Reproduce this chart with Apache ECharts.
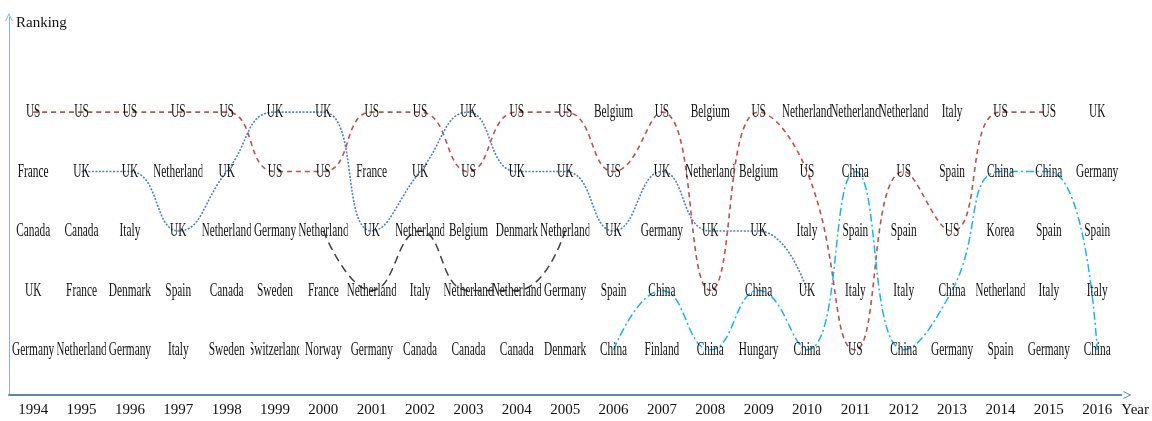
<!DOCTYPE html>
<html><head><meta charset="utf-8">
<script src="https://cdn.jsdelivr.net/npm/echarts@6/dist/echarts.min.js"></script>
<style>html,body{margin:0;padding:0;background:#fff}#c{width:1152px;height:421px}</style>
</head><body><div id="c"></div>
<script>
const years = ['1994','1995','1996','1997','1998','1999','2000','2001','2002','2003','2004','2005','2006','2007','2008','2009','2010','2011','2012','2013','2014','2015','2016'];
const rank1 = ['US','US','US','US','US','UK','UK','US','US','UK','US','US','Belgium','US','Belgium','US','Netherland','Netherland','Netherland','Italy','US','US','UK'];
const rank2 = ['France','UK','UK','Netherland','UK','US','US','France','UK','US','UK','UK','US','UK','Netherland','Belgium','US','China','US','Spain','China','China','Germany'];
const rank3 = ['Canada','Canada','Italy','UK','Netherland','Germany','Netherland','UK','Netherland','Belgium','Denmark','Netherland','UK','Germany','UK','UK','Italy','Spain','Spain','US','Korea','Spain','Spain'];
const rank4 = ['UK','France','Denmark','Spain','Canada','Sweden','France','Netherland','Italy','Netherland','Netherland','Germany','Spain','China','US','China','UK','Italy','Italy','China','Netherland','Italy','Italy'];
const rank5 = ['Germany','Netherland','Germany','Italy','Sweden','Switzerland','Norway','Germany','Canada','Canada','Canada','Denmark','China','Finland','China','Hungary','China','US','China','Germany','Spain','Germany','China'];

const usRank = [1,1,1,1,1,2,2,1,1,2,1,1,2,1,4,1,2,5,2,3,1,1,null];
const ukRank = [null,2,2,3,2,1,1,3,2,1,2,2,3,2,3,3,4,null,null,null,null,null,null];
const netherlandRank = [null,null,null,null,null,null,3,4,3,4,4,3,null,null,null,null,null,null,null,null,null,null,null];
const chinaRank = [null,null,null,null,null,null,null,null,null,null,null,null,5,4,5,4,5,2,5,4,2,2,5];

const rows = [rank1, rank2, rank3, rank4, rank5];
const cellData = [];
const cellNames = [];
rows.forEach((row, r) => row.forEach((name, i) => { cellData.push([i, r + 1]); cellNames.push(name); }));

const chart = echarts.init(document.getElementById('c'), null, {renderer: 'canvas'});
const serif = '"Liberation Serif", "Times New Roman", serif';
const chevron = 'path://M0,10 L5,0 L10,10 L8.6,10 L5,2.6 L1.4,10 Z';
function lineSeries(name, data, color, dash, width) {
  return {
    name, type: 'line', data, smooth: 0.5, symbol: 'none', connectNulls: false,
    lineStyle: {color, type: dash, width}, z: 2, silent: true
  };
}
chart.setOption({
  animation: false,
  grid: {left: 9, right: 30, top: 17, bottom: 26, containLabel: false},
  xAxis: {
    type: 'category', data: years, boundaryGap: true,
    axisLine: {show: true, onZero: false, lineStyle: {color: '#5b86c0', width: 2}, symbol: ['none', chevron], symbolSize: [10, 8], symbolOffset: [0, 6]},
    axisTick: {show: false},
    axisLabel: {fontFamily: serif, fontSize: 15, color: '#111', margin: 8},
    name: 'Year', nameLocation: 'end', nameGap: 0,
    nameTextStyle: {fontFamily: serif, fontSize: 15, color: '#111', verticalAlign: 'top', padding: [8, 0, 0, 0]},
    splitLine: {show: false}
  },
  yAxis: {
    type: 'value', inverse: true, min: -0.6, max: 5.76,
    axisLine: {show: true, onZero: false, lineStyle: {color: '#8db3e2', width: 1}, symbol: ['none', chevron], symbolSize: [8, 8]},
    axisTick: {show: false}, axisLabel: {show: false}, splitLine: {show: false},
    name: 'Ranking', nameLocation: 'start', nameGap: -14,
    nameTextStyle: {fontFamily: serif, fontSize: 15, color: '#111', align: 'left', padding: [0, 0, 0, 7]}
  },
  series: [
    lineSeries('US', usRank, '#c0504d', [5, 4], 1.6),
    lineSeries('UK', ukRank, '#4f81bd', [2, 1.5], 1.6),
    lineSeries('Netherland', netherlandRank, '#404040', [8, 5], 1.5),
    lineSeries('China', chinaRank, '#17b4ee', [8, 3, 2, 3], 1.5),
    {
      type: 'custom', data: cellData, z: 5, silent: true,
      renderItem: function (params, api) {
        const p = api.coord([api.value(0), api.value(1)]);
        const cw = api.size([1, 0])[0];
        const sx = 0.63, sy = 1.1;
        return {
          type: 'group', x: p[0], y: p[1],
          children: [{
            type: 'text', x: 0, y: 0, scaleX: sx, scaleY: sy,
            style: {text: cellNames[params.dataIndex], x: 0, y: 0, align: 'center', verticalAlign: 'middle', font: '18px ' + serif, fill: '#111'},
            clipPath: {type: 'rect', shape: {x: -cw / 2 / sx, y: -15, width: cw / sx, height: 30}}
          }]
        };
      }
    }
  ]
});
</script>
</body></html>
